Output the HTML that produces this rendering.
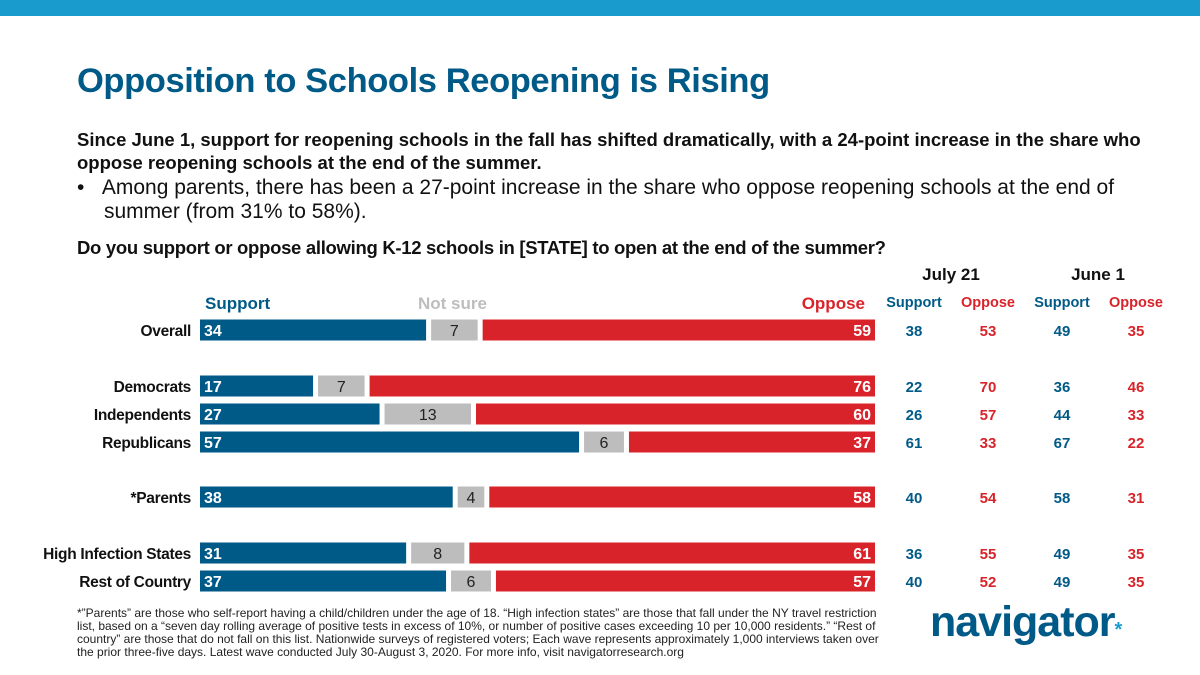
<!DOCTYPE html>
<html><head><meta charset="utf-8"><style>
body{margin:0;width:1200px;height:675px;position:relative;background:#fff;font-family:"Liberation Sans",sans-serif;overflow:hidden}
.abs{position:absolute}
</style></head><body>
<div class="abs" style="left:0;top:0;width:1200px;height:16px;background:#1a9bcd"></div>
<div class="abs" style="left:77px;top:62px;font-size:34.5px;font-weight:bold;color:#005a87;letter-spacing:-0.4px">Opposition to Schools Reopening is Rising</div>
<div class="abs" style="left:77px;top:128px;width:1100px;font-size:18.5px;font-weight:bold;color:#111;line-height:23px;letter-spacing:0px">Since June 1, support for reopening schools in the fall has shifted dramatically, with a 24-point increase in the share who oppose reopening schools at the end of the summer.</div>
<div class="abs" style="left:77px;top:176px;width:1110px;font-size:21px;color:#111;line-height:24px">•&nbsp;&nbsp;&nbsp;Among parents, there has been a 27-point increase in the share who oppose reopening schools at the end of<br><span style="padding-left:27px">summer (from 31% to 58%).</span></div>
<div class="abs" style="left:77px;top:237px;font-size:18.5px;font-weight:bold;color:#111;letter-spacing:-0.3px">Do you support or oppose allowing K-12 schools in [STATE] to open at the end of the summer?</div>
<svg class="abs" style="left:0;top:0" width="1200" height="675" id="svg"></svg>
<div class="abs" style="left:77px;top:607px;width:820px;font-size:12px;color:#222;line-height:13px">*”Parents” are those who self-report having a child/children under the age of 18. “High infection states” are those that fall under the NY travel restriction list, based on a “seven day rolling average of positive tests in excess of 10%, or number of positive cases exceeding 10 per 10,000 residents.” “Rest of country” are those that do not fall on this list. Nationwide surveys of registered voters; Each wave represents approximately 1,000 interviews taken over the prior three-five days. Latest wave conducted July 30-August 3, 2020. For more info, visit navigatorresearch.org</div>
<div class="abs" style="left:930px;top:598px;font-size:43px;font-weight:bold;color:#005a87;letter-spacing:-1px">navigator<span style="color:#1a9bcd;font-size:20px">*</span></div>
<script>
const categories=["Overall","Democrats","Independents","Republicans","*Parents","High Infection States","Rest of Country"];
const support=[34,17,27,57,38,31,37];
const notSure=[7,7,13,6,4,8,6];
const oppose=[59,76,60,37,58,61,57];
const julySupport=[38,22,26,61,40,36,40];
const julyOppose=[53,70,57,33,54,55,52];
const juneSupport=[49,36,44,67,58,49,49];
const juneOppose=[35,46,33,22,31,35,35];
const rowY=[330,386,414,442,497,553,581];
const svg=document.getElementById('svg');
const NS='http://www.w3.org/2000/svg';
const X0=200,W=675,GAP=5,BH=21;
const sc=(W-2*GAP)/100;
function mk(tag,a,txt){const e=document.createElementNS(NS,tag);for(const k in a)e.setAttribute(k,a[k]);if(txt!==undefined)e.textContent=txt;svg.appendChild(e);return e;}
const hdr=[["Support",205,"#005a87","start"],["Not sure",418,"#bdbdbd","start"],["Oppose",865,"#d9232a","end"]];
hdr.forEach(h=>{const t=mk('text',{x:h[1],y:309,'font-size':17,'font-weight':'bold',fill:h[2],'text-anchor':h[3]},h[0]);});
const ch=[["July 21",951,280,'#111',17],["June 1",1098,280,'#111',17],["Support",914,307,'#005a87',14.5],["Oppose",988,307,'#d9232a',14.5],["Support",1062,307,'#005a87',14.5],["Oppose",1136,307,'#d9232a',14.5]];
ch.forEach(c=>{const t=mk('text',{x:c[1],y:c[2],'font-size':c[4],'font-weight':'bold',fill:c[3],'text-anchor':'middle'},c[0]);});
categories.forEach((c,i)=>{
 const y=rowY[i]-BH/2;
 const l=mk('text',{x:191,y:rowY[i]+6,'font-size':15.5,'font-weight':'bold','text-anchor':'end',fill:'#111','letter-spacing':'-0.3'},c);
 
 const ws=support[i]*sc,wn=notSure[i]*sc,wo=oppose[i]*sc;
 const xs=X0,xn=X0+ws+GAP,xo=xn+wn+GAP;
 let r=mk('rect',{x:xs,y,width:ws,height:BH,fill:'#005a87'});
 r=mk('rect',{x:xn,y,width:wn,height:BH,fill:'#bdbdbd'});
 r=mk('rect',{x:xo,y,width:X0+W-xo,height:BH,fill:'#d9232a'});
 let t=mk('text',{x:xs+4,y:rowY[i]+6,'font-size':16,'font-weight':'bold',fill:'#fff'},support[i]);
 t=mk('text',{x:xn+wn/2,y:rowY[i]+6,'font-size':16,fill:'#222','text-anchor':'middle'},notSure[i]);
 t=mk('text',{x:X0+W-4,y:rowY[i]+6,'font-size':16,'font-weight':'bold',fill:'#fff','text-anchor':'end'},oppose[i]);
 [[julySupport,914,'#005a87'],[julyOppose,988,'#d9232a'],[juneSupport,1062,'#005a87'],[juneOppose,1136,'#d9232a']].forEach(s=>{
  const tt=mk('text',{x:s[1],y:rowY[i]+6,'font-size':15,'font-weight':'bold',fill:s[2],'text-anchor':'middle'},s[0][i]);
  
  
 });
});
</script>
</body></html>
